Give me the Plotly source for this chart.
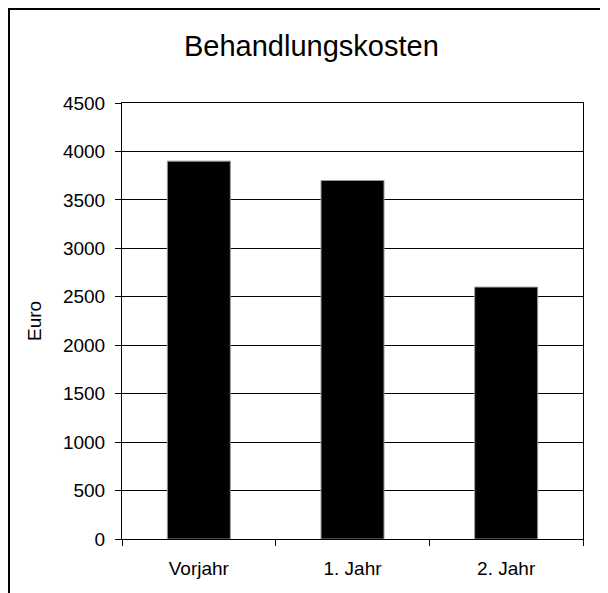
import plotly.graph_objects as go

categories = ["Vorjahr", "1. Jahr", "2. Jahr"]
values = [3900, 3700, 2600]
y_ticks = [0, 500, 1000, 1500, 2000, 2500, 3000, 3500, 4000, 4500]

W, H = 608, 593
# page body has an 8px margin, so figure coords = screen coords - 8
L, R, T, B = 114, 33, 95, 62
pw, ph = W - L - R, H - T - B

def px(x):
    return (x - L) / pw

def py(y):
    return (H - B - y) / ph

fig = go.Figure(go.Bar(
    x=categories, y=values, width=0.41,
    marker=dict(color="black", line=dict(color="#999999", width=1)),
))

fig.update_layout(
    width=W, height=H,
    margin=dict(l=L, r=R, t=T, b=B),
    paper_bgcolor="white", plot_bgcolor="white",
    font=dict(family="Liberation Sans, Arial, sans-serif", color="black", size=19),
    showlegend=False,
    xaxis=dict(type="category", tickson="boundaries", ticks="outside", ticklen=6,
               tickcolor="black", showline=True, linecolor="black", linewidth=1,
               mirror=True, showgrid=False, ticklabelstandoff=12,
               tickfont=dict(size=19)),
    yaxis=dict(range=[0, 4500], tickvals=y_ticks, ticks="outside", ticklen=6,
               tickcolor="black", showline=True, linecolor="black", linewidth=1,
               mirror=True, showgrid=True, gridcolor="black", gridwidth=1,
               zeroline=False, ticklabelstandoff=6, tickfont=dict(size=19)),
    shapes=[dict(type="rect", xref="paper", yref="paper",
                 x0=px(1), x1=px(640), y0=py(640), y1=py(1),
                 line=dict(color="black", width=2), fillcolor="rgba(0,0,0,0)")],
    annotations=[
        dict(text="Behandlungskosten", xref="paper", yref="paper",
             x=px(303.5), y=py(38.5), xanchor="center", yanchor="middle",
             showarrow=False, font=dict(size=29)),
        dict(text="Euro", xref="paper", yref="paper",
             x=px(26), y=0.5, xanchor="center", yanchor="middle",
             textangle=-90, showarrow=False, font=dict(size=19)),
    ],
)

fig.write_html("out.html")
